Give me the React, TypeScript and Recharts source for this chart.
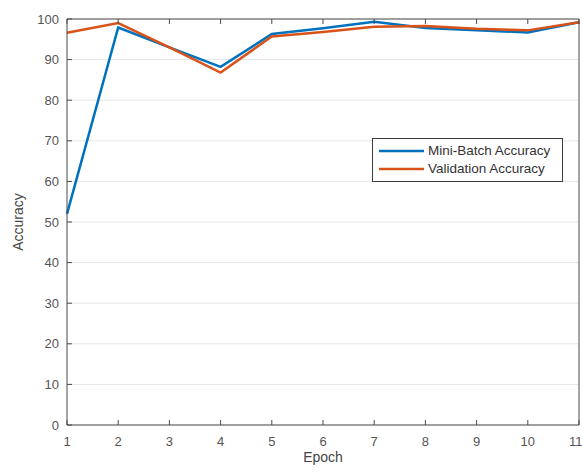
import React from "react";
import {
  LineChart,
  Line,
  XAxis,
  YAxis,
  CartesianGrid,
  Legend,
} from "recharts";

const epochs = [1, 2, 3, 4, 5, 6, 7, 8, 9, 10, 11];
const miniBatchAccuracy = [52, 97.9, 93, 88.2, 96.3, 97.7, 99.3, 97.8, 97.2, 96.7, 99.2];
const validationAccuracy = [96.6, 99, 93, 86.8, 95.7, 96.8, 98.1, 98.3, 97.6, 97.2, 99.2];
const yTicks = [0, 10, 20, 30, 40, 50, 60, 70, 80, 90, 100];

const data = epochs.map((e, i) => ({
  epoch: e,
  mini: miniBatchAccuracy[i],
  val: validationAccuracy[i],
}));

const FONT = "'Liberation Sans', Arial, sans-serif";
const AXIS = "#4a4a4a";
const TICK = { fill: "#555", fontSize: 13, fontFamily: FONT };

function LegendBox({ payload }: { payload?: { value: string; color: string }[] }) {
  return (
    <div
      style={{
        border: "1px solid #3c3c3c",
        background: "#fff",
        padding: "3px 6px",
        fontFamily: FONT,
        fontSize: 13.5,
        color: "#333",
        lineHeight: "18px",
      }}
    >
      {(payload ?? []).map((p) => (
        <div key={p.value} style={{ display: "flex", alignItems: "center" }}>
          <svg width={45} height={6} style={{ marginRight: 4 }}>
            <line x1={0} y1={3} x2={45} y2={3} stroke={p.color} strokeWidth={2.5} />
          </svg>
          <span>{p.value}</span>
        </div>
      ))}
    </div>
  );
}

function YLabel({ viewBox }: { viewBox?: { x: number; y: number; height: number } }) {
  const cy = (viewBox?.y ?? 0) + (viewBox?.height ?? 0) / 2;
  return (
    <text
      x={18}
      y={cy}
      transform={`rotate(-90 18 ${cy})`}
      textAnchor="middle"
      dominantBaseline="central"
      fill="#444"
      fontSize={14}
      fontFamily={FONT}
    >
      Accuracy
    </text>
  );
}

export default function App() {
  return (
    <div style={{ width: 582, height: 474, background: "#fff" }}>
      <style>{`body{margin:0}`}</style>
      <LineChart
        width={582}
        height={474}
        data={data}
        margin={{ top: 18, right: 2, left: 0, bottom: 0 }}
      >
        <CartesianGrid stroke="#e6e6e6" vertical={false} />
        <XAxis
          dataKey="epoch"
          type="number"
          domain={[1, 11]}
          ticks={epochs}
          height={49}
          tick={TICK}
          tickSize={-5}
          tickMargin={17}
          stroke={AXIS}
          label={{
            value: "Epoch",
            position: "insideBottom",
            offset: 12,
            fill: "#444",
            fontSize: 14,
            fontFamily: FONT,
          }}
        />
        <XAxis
          xAxisId="top"
          orientation="top"
          dataKey="epoch"
          type="number"
          domain={[1, 11]}
          ticks={epochs}
          height={1}
          tickSize={-5}
          tickFormatter={() => ""}
          stroke={AXIS}
        />
        <YAxis
          domain={[0, 100]}
          ticks={yTicks}
          width={67}
          tick={TICK}
          tickSize={-5}
          tickMargin={13}
          stroke={AXIS}
          label={{ content: <YLabel /> }}
        />
        <YAxis
          yAxisId="right"
          orientation="right"
          domain={[0, 100]}
          ticks={yTicks}
          width={1}
          tickSize={-5}
          tickFormatter={() => ""}
          stroke={AXIS}
        />
        <Legend
          layout="vertical"
          align="center"
          verticalAlign="middle"
          wrapperStyle={{ left: 372, top: 138, width: 191 }}
          content={<LegendBox />}
        />
        <Line
          name="Mini-Batch Accuracy"
          dataKey="mini"
          stroke="#0072BD"
          strokeWidth={2.5}
          dot={false}
          isAnimationActive={false}
        />
        <Line
          name="Validation Accuracy"
          dataKey="val"
          stroke="#D95319"
          strokeWidth={2.5}
          dot={false}
          isAnimationActive={false}
        />
      </LineChart>
    </div>
  );
}
